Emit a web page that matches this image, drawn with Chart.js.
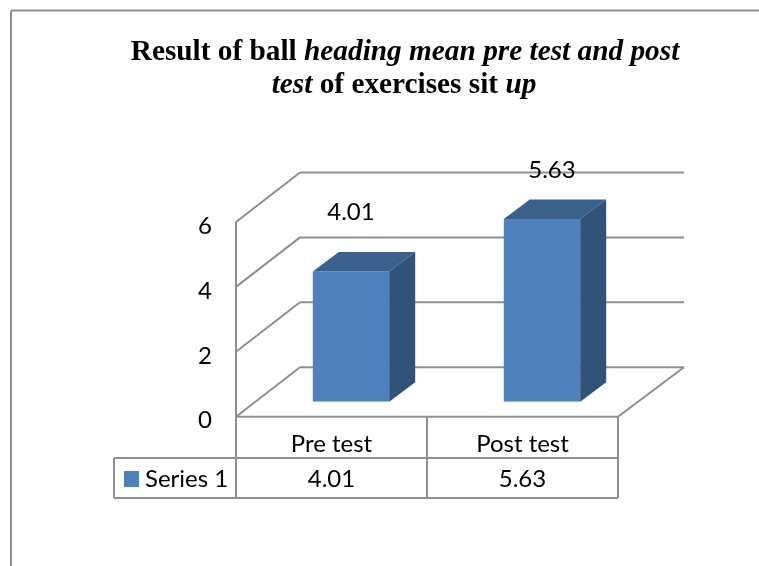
<!DOCTYPE html>
<html>
<head>
<meta charset="utf-8">
<title>Result of ball heading mean pre test and post test</title>
<script src="https://cdn.jsdelivr.net/npm/chart.js@4"></script>
<style>
    html, body { margin: 0; padding: 0; background: #fff; }
    canvas { display: block; }
</style>
</head>
<body>
<canvas id="chart" width="759" height="566"></canvas>
<script>
// chart values
const categories = ['Pre test', 'Post test'];
const seriesName = 'Series 1';
const seriesValues = [4.01, 5.63];
const yTicks = [0, 2, 4, 6];

// title runs: [text, italic]
const titleLine1 = [['Result of ball ', false], ['heading mean pre test and post', true]];
const titleLine2 = [['test', true], [' of exercises sit ', false], ['up', true]];

const LINE = '#8f8f8f';
const FRONT = '#4f81bd';
const TOP = '#3b608c';
const SIDE = '#325378';
const LABEL_FONT = '24px Lato';
const TITLE_FONT = '29.3px "Liberation Serif"';

// fake 3d depth of the chart box and of the bars
const wallDx = 64, wallDy = -49.5;
const barShiftX = 19.5, barShiftY = -15;
const barDx = 26, barDy = -19.5;
// data labels were moved by hand in the original
const labelShift = [[0, -59], [10, -49]];

function line(ctx, x1, y1, x2, y2) {
    ctx.beginPath();
    ctx.moveTo(x1, y1);
    ctx.lineTo(x2, y2);
    ctx.stroke();
}

function drawTitleLine(ctx, runs, cx, y) {
    ctx.textAlign = 'left';
    ctx.textBaseline = 'alphabetic';
    ctx.fillStyle = '#000';
    let total = 0;
    runs.forEach(function (r) {
        ctx.font = (r[1] ? 'italic ' : '') + 'bold ' + TITLE_FONT;
        total += ctx.measureText(r[0]).width;
    });
    let x = cx - total / 2;
    runs.forEach(function (r) {
        ctx.font = (r[1] ? 'italic ' : '') + 'bold ' + TITLE_FONT;
        ctx.fillText(r[0], x, y);
        x += ctx.measureText(r[0]).width;
    });
}

const box3d = {
    id: 'box3d',
    beforeDatasetsDraw: function (chart) {
        const ctx = chart.ctx;
        const area = chart.chartArea;
        const y = chart.scales.y;
        ctx.save();
        ctx.strokeStyle = LINE;
        ctx.lineWidth = 2;

        // outer frame, only top and left show in the crop
        line(ctx, 759, 10.5, 11, 10.5);
        line(ctx, 11, 10.5, 11, 566);

        // walls and gridlines
        line(ctx, area.left, y.getPixelForValue(0), area.left, y.getPixelForValue(6));
        yTicks.forEach(function (t) {
            const py = y.getPixelForValue(t);
            line(ctx, area.left, py, area.left + wallDx, py + wallDy);
            line(ctx, area.left + wallDx, py + wallDy, area.right + wallDx + 2, py + wallDy);
        });
        const py0 = y.getPixelForValue(0);
        line(ctx, area.right, py0, area.right + wallDx + 2, py0 + wallDy);
        ctx.restore();

        // bars get drawn shifted back on to the floor
        ctx.save();
        ctx.translate(barShiftX, barShiftY);
    },
    afterDatasetsDraw: function (chart) {
        const ctx = chart.ctx;
        chart.getDatasetMeta(0).data.forEach(function (bar) {
            const l = bar.x - bar.width / 2;
            const r = bar.x + bar.width / 2;
            ctx.fillStyle = TOP;
            ctx.beginPath();
            ctx.moveTo(l, bar.y);
            ctx.lineTo(l + barDx, bar.y + barDy);
            ctx.lineTo(r + barDx, bar.y + barDy);
            ctx.lineTo(r, bar.y);
            ctx.closePath();
            ctx.fill();
            ctx.fillStyle = SIDE;
            ctx.beginPath();
            ctx.moveTo(r, bar.y);
            ctx.lineTo(r + barDx, bar.y + barDy);
            ctx.lineTo(r + barDx, bar.base + barDy);
            ctx.lineTo(r, bar.base);
            ctx.closePath();
            ctx.fill();
        });
        ctx.restore();

        // data labels
        ctx.save();
        ctx.font = LABEL_FONT;
        ctx.fillStyle = '#000';
        ctx.textAlign = 'center';
        ctx.textBaseline = 'middle';
        chart.getDatasetMeta(0).data.forEach(function (bar, i) {
            ctx.fillText(seriesValues[i].toFixed(2),
                bar.x + barShiftX + labelShift[i][0],
                bar.y + barShiftY + labelShift[i][1]);
        });
        ctx.restore();
    },
    afterDraw: function (chart) {
        const ctx = chart.ctx;
        const area = chart.chartArea;
        const xs = chart.scales.x;
        const py0 = chart.scales.y.getPixelForValue(0);
        const rowTop = 458, rowBottom = 498, tableLeft = 114;
        ctx.save();
        ctx.strokeStyle = LINE;
        ctx.lineWidth = 2;

        // data table
        line(ctx, area.left, py0, area.right, py0);
        const step = (area.right - area.left) / categories.length;
        for (let i = 0; i <= categories.length; i++) {
            line(ctx, area.left + step * i, py0, area.left + step * i, rowBottom);
        }
        line(ctx, tableLeft, rowTop, area.right, rowTop);
        line(ctx, tableLeft, rowBottom, area.right, rowBottom);
        line(ctx, tableLeft, rowTop, tableLeft, rowBottom);

        // legend key and values row
        ctx.fillStyle = FRONT;
        ctx.fillRect(124, 471, 15, 16);
        ctx.font = LABEL_FONT;
        ctx.fillStyle = '#000';
        ctx.textBaseline = 'middle';
        ctx.textAlign = 'left';
        ctx.fillText(seriesName, 145, 479);
        ctx.textAlign = 'center';
        seriesValues.forEach(function (v, i) {
            ctx.fillText(v.toFixed(2), xs.getPixelForValue(i), 479);
        });

        drawTitleLine(ctx, titleLine1, 405, 60);
        drawTitleLine(ctx, titleLine2, 404, 93);
        ctx.restore();
    }
};

new Chart(document.getElementById('chart'), {
    type: 'bar',
    data: {
        labels: categories,
        datasets: [{
            label: seriesName,
            data: seriesValues,
            backgroundColor: FRONT,
            barPercentage: 0.4,
            categoryPercentage: 1
        }]
    },
    options: {
        responsive: false,
        animation: false,
        layout: { padding: { top: 222, right: 141 } },
        plugins: { legend: { display: false }, title: { display: false }, tooltip: { enabled: false } },
        scales: {
            x: {
                grid: { display: false },
                border: { display: false },
                ticks: { color: '#000', font: { family: 'Lato', size: 24 }, padding: 5 },
                afterFit: function (scale) { scale.height = 149.3; }
            },
            y: {
                min: 0,
                max: 6,
                grid: { display: false },
                border: { display: false },
                afterFit: function (scale) { scale.width = 236; },
                afterBuildTicks: function (scale) {
                    scale.ticks = yTicks.map(function (v) { return { value: v }; });
                },
                ticks: { color: '#000', font: { family: 'Lato', size: 24 }, padding: 16, labelOffset: 4 }
            }
        }
    },
    plugins: [box3d]
});
</script>
</body>
</html>
